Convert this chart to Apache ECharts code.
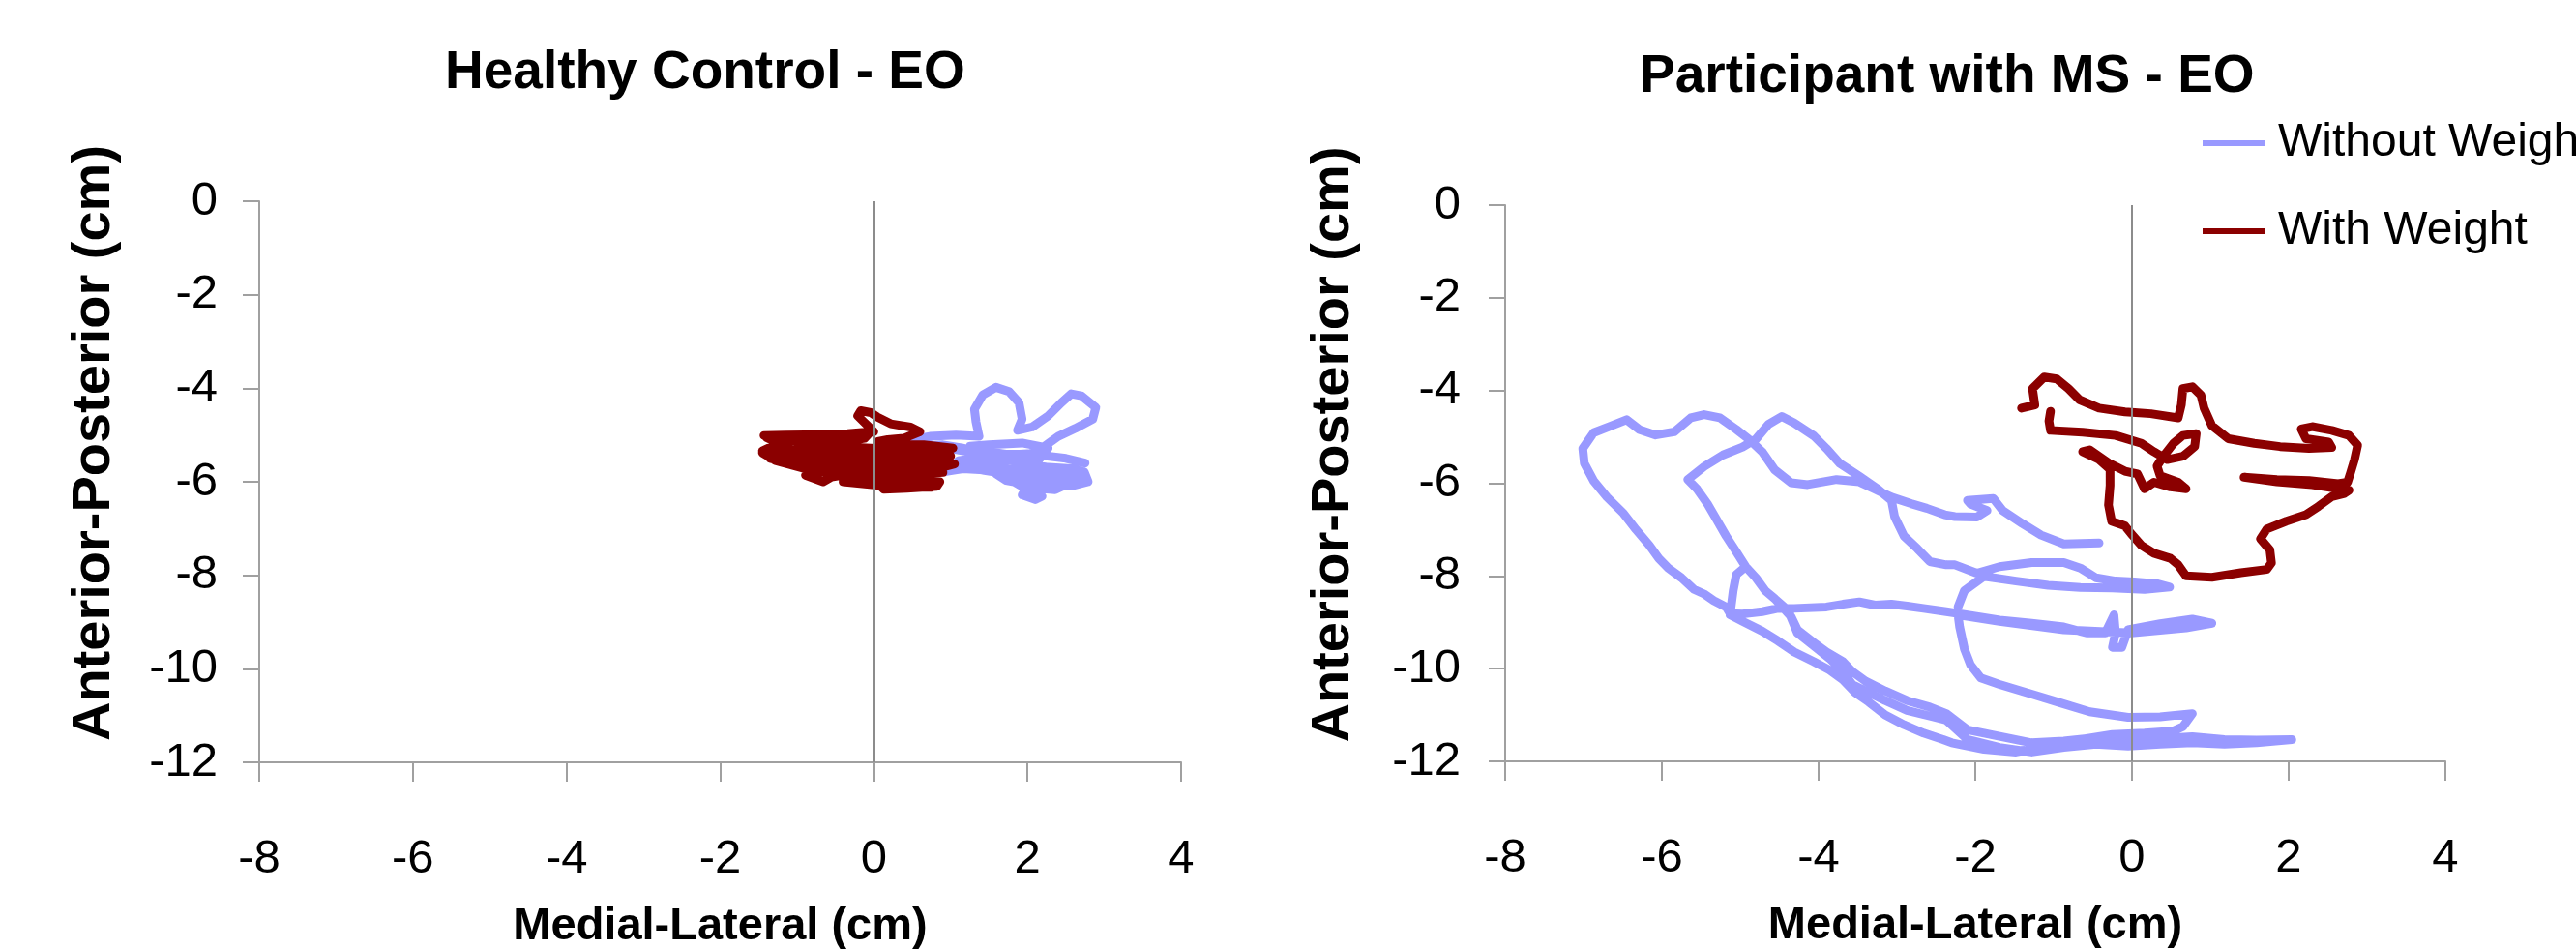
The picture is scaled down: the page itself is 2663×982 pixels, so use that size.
<!DOCTYPE html>
<html>
<head>
<meta charset="utf-8">
<script src="https://cdn.jsdelivr.net/npm/echarts@6/dist/echarts.min.js"></script>
<style>
html,body{margin:0;padding:0;background:#fff;}
#main{width:2663px;height:982px;}
</style>
</head>
<body>
<div id="main"></div>
<script>
// ---- Data (cm) ----
const xTickValues = [-8, -6, -4, -2, 0, 2, 4];
const yTickValues = [-12, -10, -8, -6, -4, -2, 0];
const seriesNames = ['Without Weight', 'With Weight'];
const chartTitles = ['Healthy Control - EO', 'Participant with MS - EO'];
const xAxisTitle = 'Medial-Lateral (cm)';
const yAxisTitle = 'Anterior-Posterior (cm)';

// Healthy control, without weight
const hcWithout = [
[0.09,-5.15],[0.43,-5.12],[0.73,-5.03],[1.07,-5.00],[1.37,-5.03],[1.33,-4.72],[1.31,-4.45],[1.42,-4.14],
[1.59,-3.98],[1.76,-4.07],[1.89,-4.31],[1.93,-4.66],[1.87,-4.90],[2.06,-4.83],[2.27,-4.59],[2.44,-4.31],
[2.57,-4.12],[2.70,-4.16],[2.89,-4.41],[2.85,-4.66],[2.62,-4.86],[2.40,-5.03],[2.19,-5.28],[2.02,-5.41],
[1.72,-5.41],[1.42,-5.34],[1.25,-5.24],[1.50,-5.21],[1.93,-5.17],[2.27,-5.28],[2.14,-5.55],[1.76,-5.55],
[1.50,-5.62],[1.29,-5.66],[1.07,-5.66],[0.90,-5.79],[1.16,-5.72],[1.59,-5.76],[1.93,-5.72],[2.27,-5.69],
[2.57,-5.72],[2.74,-5.79],[2.79,-6.00],[2.62,-6.07],[2.27,-6.07],[1.93,-6.03],[1.72,-5.97],[1.59,-5.83],
[1.93,-5.83],[2.36,-5.90],[2.62,-5.97],[2.36,-6.17],[2.14,-6.14],[1.97,-6.17],[1.93,-6.28],[2.10,-6.38],
[2.19,-6.31],[1.93,-6.10],[1.72,-5.90],[1.50,-5.62],[1.33,-5.41],[1.16,-5.28],[0.90,-5.21],[0.65,-5.24],
[0.70,-5.20],[1.20,-5.35],[1.60,-5.50],[2.00,-5.60],[2.40,-5.75],[2.70,-5.90],[2.30,-5.95],[1.80,-5.85],
[1.40,-5.75],[1.10,-5.55],[1.50,-5.45],[2.00,-5.40],[2.50,-5.50],[2.75,-5.60]
];

// Healthy control, with weight
const hcWith = [
[0.00,-4.93],[-0.21,-4.59],[-0.17,-4.48],[-0.04,-4.52],[0.05,-4.62],[0.22,-4.76],[0.48,-4.83],[0.60,-4.93],
[0.39,-5.07],[0.18,-5.10],[0.05,-5.14],[0.22,-5.21],[0.65,-5.21],[1.03,-5.28],[0.90,-5.38],[0.43,-5.41],
[0.05,-5.45],[-0.30,-5.41],[-0.64,-5.41],[-1.07,-5.38],[-1.45,-5.34],[-1.37,-5.28],[-1.07,-5.31],[-0.55,-5.21],
[-0.47,-5.14],[-0.85,-5.10],[-1.28,-5.07],[-1.43,-5.01],[-1.15,-5.00],[-0.64,-4.99],[-0.34,-4.97],[-0.04,-4.93],
[-0.12,-5.07],[-0.38,-5.14],[-0.51,-5.28],[-0.72,-5.48],[-0.55,-5.55],[-0.21,-5.52],[0.22,-5.55],[0.65,-5.59],
[1.05,-5.62],[0.82,-5.72],[0.43,-5.76],[0.05,-5.72],[-0.30,-5.76],[-0.64,-5.79],[-0.89,-5.86],[-0.66,-6.00],
[-0.55,-5.90],[-0.30,-5.83],[-0.04,-5.90],[0.13,-5.97],[0.43,-6.00],[0.86,-6.00],[0.82,-6.10],[0.43,-6.14],
[0.13,-6.16],[0.05,-6.03],[0.30,-6.07],[0.65,-6.03],[-0.30,-5.90],[-0.90,-5.72],[-1.28,-5.55],[-1.45,-5.38],
[-1.20,-5.45],[-0.70,-5.60],[-1.40,-5.05],[-0.90,-5.15],[-0.40,-5.25],[0.20,-5.30],[0.80,-5.35],[1.00,-5.45],
[0.50,-5.50],[-0.10,-5.60],[-0.60,-5.65],[-1.10,-5.60],[-1.35,-5.50],[-0.80,-5.45],[-0.20,-5.35],[0.40,-5.65],
[0.90,-5.80],[0.50,-5.85],[0.00,-5.95],[-0.40,-6.00],[0.20,-6.10],[0.75,-6.12],[0.60,-5.95],[0.10,-5.80],
[-0.50,-5.70]
];

// Participant with MS, without weight
const msWithout = [
[-0.42,-7.29],[-0.87,-7.31],[-1.16,-7.12],[-1.40,-6.87],[-1.65,-6.59],[-1.77,-6.33],[-2.10,-6.37],[-2.06,-6.45],
[-1.85,-6.59],[-1.98,-6.73],[-2.26,-6.72],[-2.39,-6.68],[-2.62,-6.54],[-2.82,-6.44],[-3.07,-6.30],[-3.28,-6.13],
[-3.48,-5.97],[-3.77,-5.92],[-4.14,-6.03],[-4.35,-5.99],[-4.56,-5.71],[-4.72,-5.32],[-4.89,-5.05],[-5.05,-4.84],
[-5.26,-4.59],[-5.46,-4.52],[-5.63,-4.59],[-5.84,-4.89],[-6.08,-4.96],[-6.29,-4.84],[-6.45,-4.63],[-6.66,-4.77],
[-6.87,-4.91],[-7.01,-5.25],[-6.99,-5.57],[-6.87,-5.95],[-6.70,-6.30],[-6.49,-6.65],[-6.33,-7.00],[-6.16,-7.34],
[-6.04,-7.62],[-5.92,-7.83],[-5.75,-8.04],[-5.59,-8.29],[-5.46,-8.39],[-5.34,-8.53],[-5.18,-8.67],[-5.13,-8.81],
[-4.97,-8.82],[-4.72,-8.77],[-4.52,-8.70],[-4.31,-8.70],[-3.90,-8.67],[-3.69,-8.61],[-3.48,-8.56],[-3.28,-8.63],
[-3.07,-8.61],[-2.87,-8.65],[-2.66,-8.70],[-2.37,-8.77],[-2.10,-8.84],[-1.69,-8.95],[-1.28,-9.02],[-0.87,-9.10],
[-0.58,-9.23],[-0.34,-9.23],[-0.23,-8.84],[-0.21,-9.23],[-0.25,-9.54],[-0.13,-9.54],[-0.05,-9.16],[0.36,-9.03],
[0.77,-8.93],[1.02,-9.02],[0.69,-9.12],[-0.01,-9.23],[-0.87,-9.16],[-1.69,-8.98],[-2.22,-8.84],[-2.20,-9.10],
[-2.14,-9.57],[-2.06,-9.92],[-1.93,-10.20],[-1.69,-10.34],[-1.28,-10.55],[-0.87,-10.76],[-0.54,-10.93],[-0.05,-11.05],
[0.36,-11.04],[0.77,-10.97],[0.65,-11.25],[0.52,-11.35],[0.16,-11.39],[-0.25,-11.42],[-0.66,-11.53],[-1.07,-11.67],
[-1.48,-11.80],[-1.89,-11.74],[-2.30,-11.60],[-2.41,-11.53],[-2.66,-11.39],[-2.91,-11.21],[-3.15,-11.00],[-3.36,-10.72],
[-3.53,-10.52],[-3.69,-10.24],[-3.86,-10.03],[-4.06,-9.85],[-4.31,-9.64],[-4.52,-9.40],[-4.72,-9.19],[-4.97,-8.98],
[-5.13,-8.84],[-5.09,-8.32],[-5.05,-7.97],[-4.93,-7.80],[-4.80,-8.04],[-4.68,-8.32],[-4.56,-8.49],[-4.35,-8.88],
[-4.27,-9.16],[-4.06,-9.44],[-3.90,-9.64],[-3.69,-9.85],[-3.57,-10.06],[-3.40,-10.27],[-3.15,-10.48],[-2.87,-10.69],
[-2.58,-10.83],[-2.37,-10.97],[-2.10,-11.32],[-1.69,-11.46],[-1.28,-11.60],[-0.87,-11.56],[-0.46,-11.49],[-0.05,-11.56],
[0.36,-11.51],[0.77,-11.47],[1.18,-11.53],[1.59,-11.54],[2.04,-11.53],[1.59,-11.60],[1.18,-11.63],[0.77,-11.60],
[0.36,-11.63],[-0.05,-11.67],[-0.46,-11.63],[-0.87,-11.70],[-1.28,-11.80],[-1.69,-11.70],[-2.10,-11.53],[-2.37,-11.11],
[-2.54,-11.04],[-2.87,-10.90],[-3.15,-10.69],[-3.40,-10.48],[-3.57,-10.34],[-3.69,-10.06],[-3.86,-9.78],[-4.06,-9.51],
[-4.27,-9.23],[-4.39,-8.74],[-4.56,-8.49],[-4.68,-8.32],[-4.80,-8.04],[-4.93,-7.80],[-5.05,-7.48],[-5.18,-7.14],
[-5.30,-6.79],[-5.42,-6.44],[-5.55,-6.13],[-5.67,-5.92],[-5.46,-5.64],[-5.22,-5.39],[-4.97,-5.22],[-4.80,-5.05],
[-4.64,-4.73],[-4.47,-4.56],[-4.31,-4.70],[-4.06,-4.98],[-3.90,-5.25],[-3.73,-5.57],[-3.48,-5.85],[-3.24,-6.13],
[-3.07,-6.37],[-3.03,-6.72],[-2.91,-7.14],[-2.74,-7.41],[-2.58,-7.69],[-2.37,-7.76],[-2.26,-7.76],[-1.98,-7.94],
[-1.69,-7.80],[-1.28,-7.71],[-0.87,-7.71],[-0.66,-7.83],[-0.46,-8.04],[-0.21,-8.11],[0.03,-8.13],[0.32,-8.17],
[0.48,-8.24],[0.16,-8.29],[-0.25,-8.26],[-0.66,-8.25],[-1.07,-8.20],[-1.48,-8.11],[-1.89,-8.01],[-2.14,-8.32],
[-2.22,-8.67]
];

// Participant with MS, with weight
const msWith = [
[-1.41,-4.38],[-1.24,-4.31],[-1.27,-3.96],[-1.12,-3.71],[-0.96,-3.75],[-0.81,-3.96],[-0.67,-4.20],[-0.42,-4.38],
[-0.09,-4.46],[0.24,-4.50],[0.59,-4.59],[0.63,-4.31],[0.65,-3.96],[0.77,-3.92],[0.88,-4.10],[0.92,-4.38],
[1.02,-4.76],[1.23,-5.04],[1.56,-5.14],[1.89,-5.21],[2.26,-5.25],[2.55,-5.23],[2.51,-5.11],[2.22,-5.04],
[2.16,-4.83],[2.30,-4.78],[2.55,-4.86],[2.77,-4.97],[2.88,-5.18],[2.84,-5.49],[2.79,-5.77],[2.75,-5.98],
[2.63,-6.01],[2.26,-5.94],[1.85,-5.92],[1.43,-5.87],[1.85,-5.97],[2.30,-6.03],[2.77,-6.15],[2.71,-6.22],
[2.55,-6.29],[2.38,-6.50],[2.22,-6.68],[1.97,-6.82],[1.72,-6.99],[1.64,-7.20],[1.76,-7.44],[1.78,-7.72],
[1.72,-7.86],[1.39,-7.93],[1.02,-8.03],[0.69,-8.00],[0.59,-7.76],[0.49,-7.62],[0.28,-7.51],[0.12,-7.34],
[-0.01,-7.09],[-0.09,-6.92],[-0.26,-6.82],[-0.30,-6.47],[-0.28,-6.05],[-0.28,-5.70],[-0.42,-5.49],[-0.63,-5.32],
[-0.54,-5.28],[-0.30,-5.56],[-0.09,-5.74],[0.07,-5.80],[0.16,-6.12],[0.28,-5.98],[0.49,-6.08],[0.69,-6.12],
[0.59,-5.98],[0.36,-5.84],[0.32,-5.63],[0.40,-5.42],[0.53,-5.14],[0.65,-4.97],[0.82,-4.93],[0.80,-5.21],
[0.65,-5.42],[0.45,-5.49],[0.28,-5.32],[0.12,-5.14],[-0.21,-4.97],[-0.63,-4.90],[-1.04,-4.86],[-1.06,-4.66],
[-1.04,-4.45]
];

// ---- Chart ----
const FONT = 'Liberation Sans, Arial, sans-serif';
const axisGray = '#A0A0A0';
const colors = ['#9999FF', '#8B0000'];
const xMin = xTickValues[0], xMax = xTickValues[xTickValues.length - 1];
const yMin = yTickValues[0], yMax = yTickValues[yTickValues.length - 1];
const xStep = xTickValues[1] - xTickValues[0];
const yStep = yTickValues[1] - yTickValues[0];

function makeX(gi) {
  return {
    type: 'value', gridIndex: gi, min: xMin, max: xMax, interval: xStep,
    axisLine: { show: true, onZero: false, lineStyle: { color: axisGray, width: 2 } },
    axisTick: { show: true, inside: false, length: 20, lineStyle: { color: axisGray, width: 2 } },
    axisLabel: { fontSize: 49, color: '#000', margin: 76, fontFamily: FONT },
    splitLine: { show: false },
    name: xAxisTitle, nameLocation: 'middle', nameGap: 147,
    nameTextStyle: { fontSize: 47, fontWeight: 'bold', color: '#000', fontFamily: FONT }
  };
}
function makeY(gi, labelMargin, nameGap) {
  return {
    type: 'value', gridIndex: gi, min: yMin, max: yMax, interval: yStep,
    axisLine: { show: true, onZero: false, lineStyle: { color: axisGray, width: 2 } },
    axisTick: { show: true, inside: false, length: 17, lineStyle: { color: axisGray, width: 2 } },
    axisLabel: { fontSize: 49, color: '#000', margin: labelMargin, fontFamily: FONT },
    splitLine: { show: false },
    name: yAxisTitle, nameLocation: 'middle', nameGap: nameGap,
    nameTextStyle: { fontSize: 56, fontWeight: 'bold', color: '#000', fontFamily: FONT, padding: [0, 0, 0, 80] }
  };
}
function zeroLine() {
  return {
    silent: true, symbol: ['none', 'none'], label: { show: false }, animation: false,
    lineStyle: { color: '#8C8C8C', width: 2, type: 'solid' },
    emphasis: { disabled: true },
    data: [{ xAxis: 0 }]
  };
}
function lineSeries(name, data, gi, color, withZero) {
  const s = {
    type: 'line', name: name, xAxisIndex: gi, yAxisIndex: gi, data: data,
    symbol: 'none', showSymbol: false, smooth: false,
    lineStyle: { color: color, width: 9, join: 'round', cap: 'round' },
    itemStyle: { color: color }, emphasis: { disabled: true }
  };
  if (withZero) s.markLine = zeroLine();
  return s;
}

const chart = echarts.init(document.getElementById('main'), null, { renderer: 'canvas' });
chart.setOption({
  backgroundColor: '#ffffff',
  animation: false,
  title: [
    { text: chartTitles[0], left: 455, top: 43, textStyle: { fontSize: 55, fontWeight: 'bold', color: '#000', fontFamily: FONT } },
    { text: chartTitles[1], left: 1690, top: 47, textStyle: { fontSize: 55, fontWeight: 'bold', color: '#000', fontFamily: FONT } }
  ],
  legend: {
    data: seriesNames, orient: 'vertical', left: 2272, top: 119,
    icon: 'rect', itemWidth: 65, itemHeight: 6, itemGap: 43,
    textStyle: { fontSize: 48, color: '#000', fontFamily: FONT, padding: [0, 0, 0, 8] },
    selectedMode: false
  },
  grid: [
    { left: 268, top: 208, width: 953, height: 580, containLabel: false, outerBoundsMode: 'none' },
    { left: 1556, top: 212, width: 972, height: 575, containLabel: false, outerBoundsMode: 'none' }
  ],
  xAxis: [makeX(0), makeX(1)],
  yAxis: [makeY(0, 43, 142), makeY(1, 46, 149)],
  series: [
    lineSeries(seriesNames[0], hcWithout, 0, colors[0], false),
    lineSeries(seriesNames[1], hcWith, 0, colors[1], true),
    lineSeries(seriesNames[0], msWithout, 1, colors[0], false),
    lineSeries(seriesNames[1], msWith, 1, colors[1], true)
  ]
});
</script>
</body>
</html>
